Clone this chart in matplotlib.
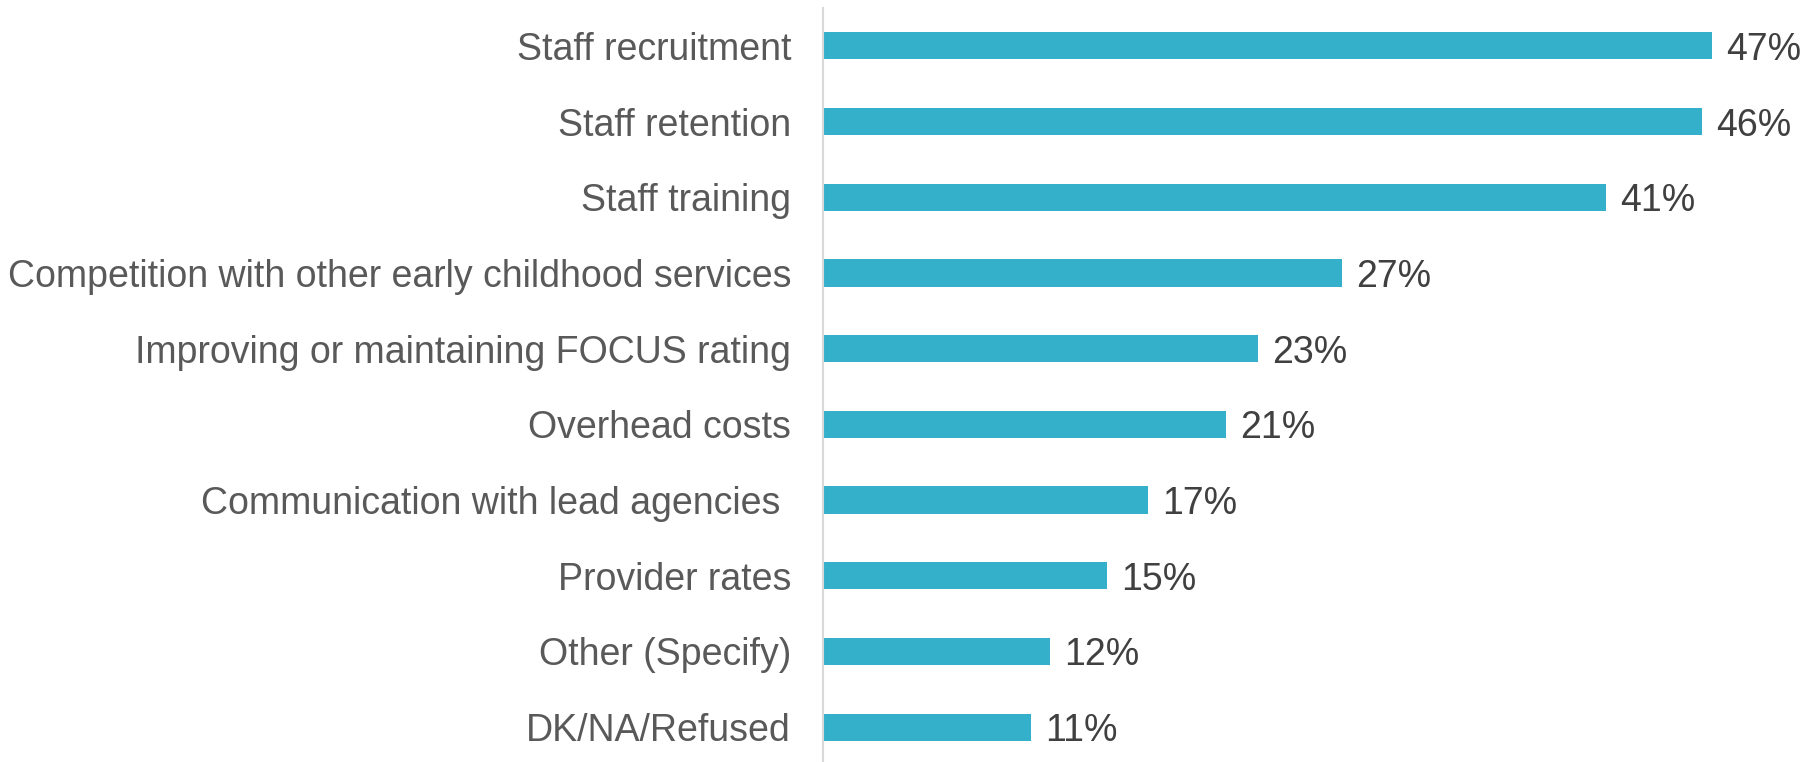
import matplotlib
matplotlib.use("Agg")
import matplotlib.pyplot as plt

# survey responses, top to bottom
categories = [
    "Staff recruitment",
    "Staff retention",
    "Staff training",
    "Competition with other early childhood services",
    "Improving or maintaining FOCUS rating",
    "Overhead costs",
    "Communication with lead agencies ",
    "Provider rates",
    "Other (Specify)",
    "DK/NA/Refused",
]
# unrounded shares; labels show rounded values
values = [47.0, 46.45, 41.4, 27.45, 23.0, 21.3, 17.2, 15.0, 12.0, 11.0]

plt.rcParams["font.family"] = ["Liberation Sans", "DejaVu Sans"]

fig = plt.figure(figsize=(18.16, 7.62), dpi=100)
ax = fig.add_axes([823 / 1816, -3 / 762, 1 - 823 / 1816, 1 - 5 / 762])

pos = list(range(len(categories)))
ax.barh(pos, values, height=0.36, color="#35B0CB")
ax.set_ylim(len(categories) - 0.5, -0.5)
ax.set_xlim(0, 52.5)

ax.set_yticks(pos)
ax.set_yticklabels(categories, fontsize=27, color="#595959")
ax.tick_params(axis="y", length=0, pad=23)
ax.set_xticks([])

for p, v in zip(pos, values):
    ax.text(v + 0.75, p, f"{round(v)}%", va="center_baseline", ha="left",
            fontsize=27, color="#404040")

for s in ["top", "right", "bottom"]:
    ax.spines[s].set_visible(False)
ax.spines["left"].set_color("#D9D9D9")
ax.spines["left"].set_linewidth(1.5)

fig.savefig("out.png", dpi=100)
